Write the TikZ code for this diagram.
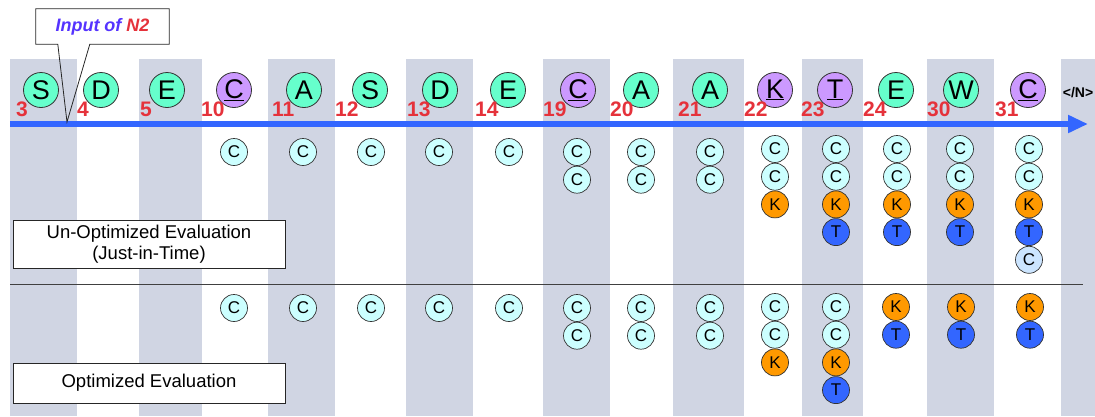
\documentclass[tikz,border=0pt]{standalone}
\usepackage{fontspec}
\setmainfont{Liberation Sans}
\usetikzlibrary{arrows.meta,positioning}
\definecolor{stripeGray}{HTML}{D0D5E3}
\definecolor{symGreen}{HTML}{66FFCC}
\definecolor{symPurple}{HTML}{CC99FF}
\definecolor{resCyan}{HTML}{CCFFFF}
\definecolor{resOrange}{HTML}{FF9900}
\definecolor{resBlue}{HTML}{3366FF}
\definecolor{resPale}{HTML}{CCE5FF}
\definecolor{posRed}{HTML}{E5323B}
\definecolor{inBlue}{HTML}{5533FF}
\definecolor{lineBlue}{HTML}{3366FF}
\tikzset{
  sym/.style={
    circle, draw=black!80, line width=0.8pt,
    minimum size=35pt, inner sep=0pt,
    font=\fontsize{27}{27}\selectfont
  },
  plainsym/.style={sym, fill=symGreen},
  tagsym/.style  ={sym, fill=symPurple},
  res/.style={
    circle, draw=black!80, line width=0.7pt,
    minimum size=27pt, inner sep=0pt,
    font=\fontsize{17}{17}\selectfont
  },
  resC/.style={res, fill=resCyan},
  resK/.style={res, fill=resOrange},
  resT/.style={res, fill=resBlue},
  resX/.style={res, fill=resPale},
  posnum/.style={
    anchor=base west, inner sep=0pt, text=posRed,
    font=\fontsize{21}{21}\selectfont\bfseries
  },
  evalbox/.style={
    rectangle, draw=black!85, line width=0.8pt, fill=white,
    minimum width=272pt, align=center,
    font=\fontsize{18.5}{21}\selectfont
  },
  timeline/.style={-{Triangle[length=20pt,width=17pt]}, line width=6pt, draw=lineBlue}
}

\begin{document}
\begin{tikzpicture}[x=1pt, y=-1pt]
  \useasboundingbox (0,0) rectangle (1095,416);

  % --- stripes
  \fill[stripeGray] (10,59)   rectangle (77,416);
  \fill[stripeGray] (139,59)  rectangle (202,416);
  \fill[stripeGray] (268,59)  rectangle (335,416);
  \fill[stripeGray] (406,59)  rectangle (473,416);
  \fill[stripeGray] (543,59)  rectangle (610,416);
  \fill[stripeGray] (673,59)  rectangle (744,416);
  \fill[stripeGray] (802,59)  rectangle (863,416);
  \fill[stripeGray] (927,59)  rectangle (994,416);
  \fill[stripeGray] (1061,59) rectangle (1095,416);

  % --- time line and separator
  \coordinate (t0) at (10,124);
  \coordinate (t1) at (1088,124);
  \draw[timeline] (t0) -- (t1);
  \coordinate (s0) at (10,284);
  \coordinate (s1) at (1083,284);
  \draw[black!75, line width=1pt] (s0) -- (s1);

  % --- input symbols
  \node[plainsym] (in3)  at (41,90)   {S};
  \node[plainsym] (in4)  at (101,90)  {D};
  \node[plainsym] (in5)  at (167,90)  {E};
  \node[tagsym]   (in10) at (234,90)  {\underline{C}};
  \node[plainsym] (in11) at (304,90)  {A};
  \node[plainsym] (in12) at (370,90)  {S};
  \node[plainsym] (in13) at (440,90)  {D};
  \node[plainsym] (in14) at (508,90)  {E};
  \node[tagsym]   (in19) at (578,90)  {\underline{C}};
  \node[plainsym] (in20) at (641,90)  {A};
  \node[plainsym] (in21) at (710,90)  {A};
  \node[tagsym]   (in22) at (775,90)  {\underline{K}};
  \node[tagsym]   (in23) at (835,90)  {\underline{T}};
  \node[plainsym] (in24) at (896,90)  {E};
  \node[plainsym] (in30) at (961,90)  {W};
  \node[tagsym]   (in31) at (1028,90) {\underline{C}};
  \node[font=\fontsize{14}{14}\selectfont\bfseries] (eot) at (1078,93) {</N>};

  % --- positions
  \node[posnum] (n3)  at (16,116)  {3};
  \node[posnum] (n4)  at (77,116)  {4};
  \node[posnum] (n5)  at (140,116) {5};
  \node[posnum] (n10) at (201,116) {10};
  \node[posnum] (n11) at (272,116) {11};
  \node[posnum] (n12) at (335,116) {12};
  \node[posnum] (n13) at (407,116) {13};
  \node[posnum] (n14) at (475,116) {14};
  \node[posnum] (n19) at (543,116) {19};
  \node[posnum] (n20) at (610,116) {20};
  \node[posnum] (n21) at (678,116) {21};
  \node[posnum] (n22) at (744,116) {22};
  \node[posnum] (n23) at (801,116) {23};
  \node[posnum] (n24) at (863,116) {24};
  \node[posnum] (n30) at (927,116) {30};
  \node[posnum] (n31) at (995,116) {31};

  % --- callout
  \node[inner sep=0pt, minimum width=133pt, minimum height=35pt,
        font=\fontsize{18}{18}\selectfont\bfseries\itshape]
        (inp) at (102.5,26.5) {\textcolor{inBlue}{Input of} \textcolor{posRed}{N2}};
  \coordinate (tip) at (67,122);
  \draw[black!85, line width=0.8pt] ([xshift=22pt]inp.south west) -- (inp.south west) -- (inp.north west)
        -- (inp.north east) -- (inp.south east) -- ([xshift=54pt]inp.south west) -- (tip) -- cycle;

  % --- un-optimized evaluation
  \node[evalbox, minimum height=48pt] (unopt) at (149,244) {Un-Optimized Evaluation\\(Just-in-Time)};
  \node[resC] (u10a) at (234,152) {C};
  \node[resC] (u11a) at (303,152) {C};
  \node[resC] (u12a) at (371,152) {C};
  \node[resC] (u13a) at (439,152) {C};
  \node[resC] (u14a) at (509,152) {C};
  \node[resC] (u19a) at (577,152) {C}; \node[resC, below=0pt of u19a] (u19b) {C};
  \node[resC] (u20a) at (641,152) {C}; \node[resC, below=0pt of u20a] (u20b) {C};
  \node[resC] (u21a) at (710,152) {C}; \node[resC, below=0pt of u21a] (u21b) {C};
  \node[resC] (u22a) at (775,149) {C}; \node[resC, below=0pt of u22a] (u22b) {C};
  \node[resK, below=0pt of u22b] (u22c) {K};
  \node[resC] (u23a) at (836,149) {C}; \node[resC, below=0pt of u23a] (u23b) {C};
  \node[resK, below=0pt of u23b] (u23c) {K}; \node[resT, below=0pt of u23c] (u23d) {T};
  \node[resC] (u24a) at (897,149) {C}; \node[resC, below=0pt of u24a] (u24b) {C};
  \node[resK, below=0pt of u24b] (u24c) {K}; \node[resT, below=0pt of u24c] (u24d) {T};
  \node[resC] (u30a) at (960,149) {C}; \node[resC, below=0pt of u30a] (u30b) {C};
  \node[resK, below=0pt of u30b] (u30c) {K}; \node[resT, below=0pt of u30c] (u30d) {T};
  \node[resC] (u31a) at (1029,149) {C}; \node[resC, below=0pt of u31a] (u31b) {C};
  \node[resK, below=0pt of u31b] (u31c) {K}; \node[resT, below=0pt of u31c] (u31d) {T};
  \node[resX, below=0pt of u31d] (u31e) {C};

  % --- optimized evaluation
  \node[evalbox, minimum height=40pt] (opt) at (149,383) {Optimized Evaluation};
  \node[resC] (o10a) at (234,308) {C};
  \node[resC] (o11a) at (303,308) {C};
  \node[resC] (o12a) at (371,308) {C};
  \node[resC] (o13a) at (439,308) {C};
  \node[resC] (o14a) at (509,308) {C};
  \node[resC] (o19a) at (577,308) {C}; \node[resC, below=0pt of o19a] (o19b) {C};
  \node[resC] (o20a) at (641,308) {C}; \node[resC, below=0pt of o20a] (o20b) {C};
  \node[resC] (o21a) at (710,308) {C}; \node[resC, below=0pt of o21a] (o21b) {C};
  \node[resC] (o22a) at (775,307) {C}; \node[resC, below=0pt of o22a] (o22b) {C};
  \node[resK, below=0pt of o22b] (o22c) {K};
  \node[resC] (o23a) at (836,307) {C}; \node[resC, below=0pt of o23a] (o23b) {C};
  \node[resK, below=0pt of o23b] (o23c) {K}; \node[resT, below=0pt of o23c] (o23d) {T};
  \node[resK] (o24a) at (896,307) {K}; \node[resT, below=0pt of o24a] (o24b) {T};
  \node[resK] (o30a) at (961,307) {K}; \node[resT, below=0pt of o30a] (o30b) {T};
  \node[resK] (o31a) at (1030,307) {K}; \node[resT, below=0pt of o31a] (o31b) {T};
\end{tikzpicture}
\end{document}
